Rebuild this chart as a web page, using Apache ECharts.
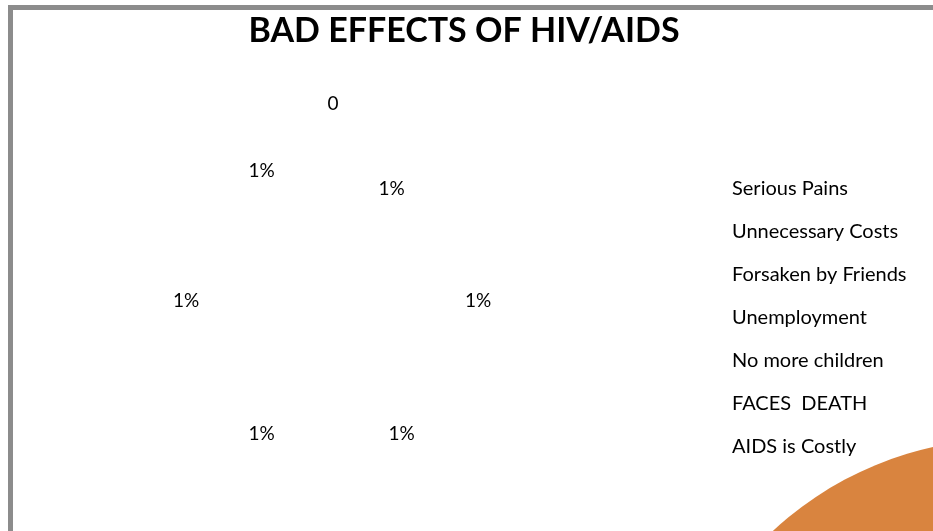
<!DOCTYPE html>
<html>
<head>
<meta charset="utf-8">
<script src="https://cdn.jsdelivr.net/npm/echarts@6/dist/echarts.min.js"></script>
<style>
html,body{margin:0;padding:0;background:#fff;}
#main{width:933px;height:531px;}
</style>
</head>
<body>
<div id="main"></div>
<script>
// ---- data ----
var titleText = 'BAD EFFECTS OF HIV/AIDS';
var categories = ['Serious Pains', 'Unnecessary Costs', 'Forsaken by Friends', 'Unemployment', 'No more children', 'FACES  DEATH', 'AIDS is Costly'];
var values = [0, 0.01, 0.01, 0.01, 0.01, 0.01, 0.01];
var labelTexts = ['0', '1%', '1%', '1%', '1%', '1%', '1%'];

var FONT = 'Lato, "Noto Sans", sans-serif';
var chart = echarts.init(document.getElementById('main'), null, {renderer: 'canvas'});

var pieData = categories.map(function (c, i) {
  return { name: c, value: values[i] };
});

// per-label nudges reproducing the original label placement
var labelNudge = { 0: [1, -48], 1: [-15, 17], 2: [-3, 0], 3: [-5, 4], 4: [4, 4], 5: [3, 0], 6: [4, -1] };

chart.setOption({
  backgroundColor: '#ffffff',
  animation: false,
  title: {
    text: titleText,
    left: 459,
    textAlign: 'center',
    top: 9,
    textStyle: { fontFamily: FONT, fontWeight: 'bold', fontSize: 34, color: '#000' }
  },
  legend: {
    orient: 'vertical',
    left: 722,
    top: 173,
    itemWidth: 0,
    itemHeight: 14,
    itemGap: 21,
    icon: 'rect',
    selectedMode: false,
    textStyle: { fontFamily: FONT, fontSize: 20, color: '#000', lineHeight: 22 },
    data: categories
  },
  series: [{
    type: 'pie',
    center: [332, 301],
    radius: [138, 154],
    startAngle: 90,
    clockwise: true,
    silent: true,
    itemStyle: { color: 'rgba(255,255,255,0)', borderWidth: 0 },
    label: {
      show: true,
      position: 'inside',
      fontFamily: FONT,
      fontSize: 19,
      color: '#000',
      formatter: function (p) { return labelTexts[p.dataIndex]; }
    },
    labelLine: { show: false },
    labelLayout: function (p) {
      var n = labelNudge[p.dataIndex];
      return n ? { dx: n[0], dy: n[1] } : {};
    },
    data: pieData
  }],
  graphic: [
    { type: 'rect', shape: { x: 8, y: 5, width: 925, height: 5 }, style: { fill: '#8c8c8c' }, silent: true },
    { type: 'rect', shape: { x: 8, y: 5, width: 5, height: 526 }, style: { fill: '#8c8c8c' }, silent: true },
    { type: 'circle', shape: { cx: 1007, cy: 783, r: 344 }, style: { fill: '#D9843F' }, silent: true, z: -1 }
  ]
});
</script>
</body>
</html>
